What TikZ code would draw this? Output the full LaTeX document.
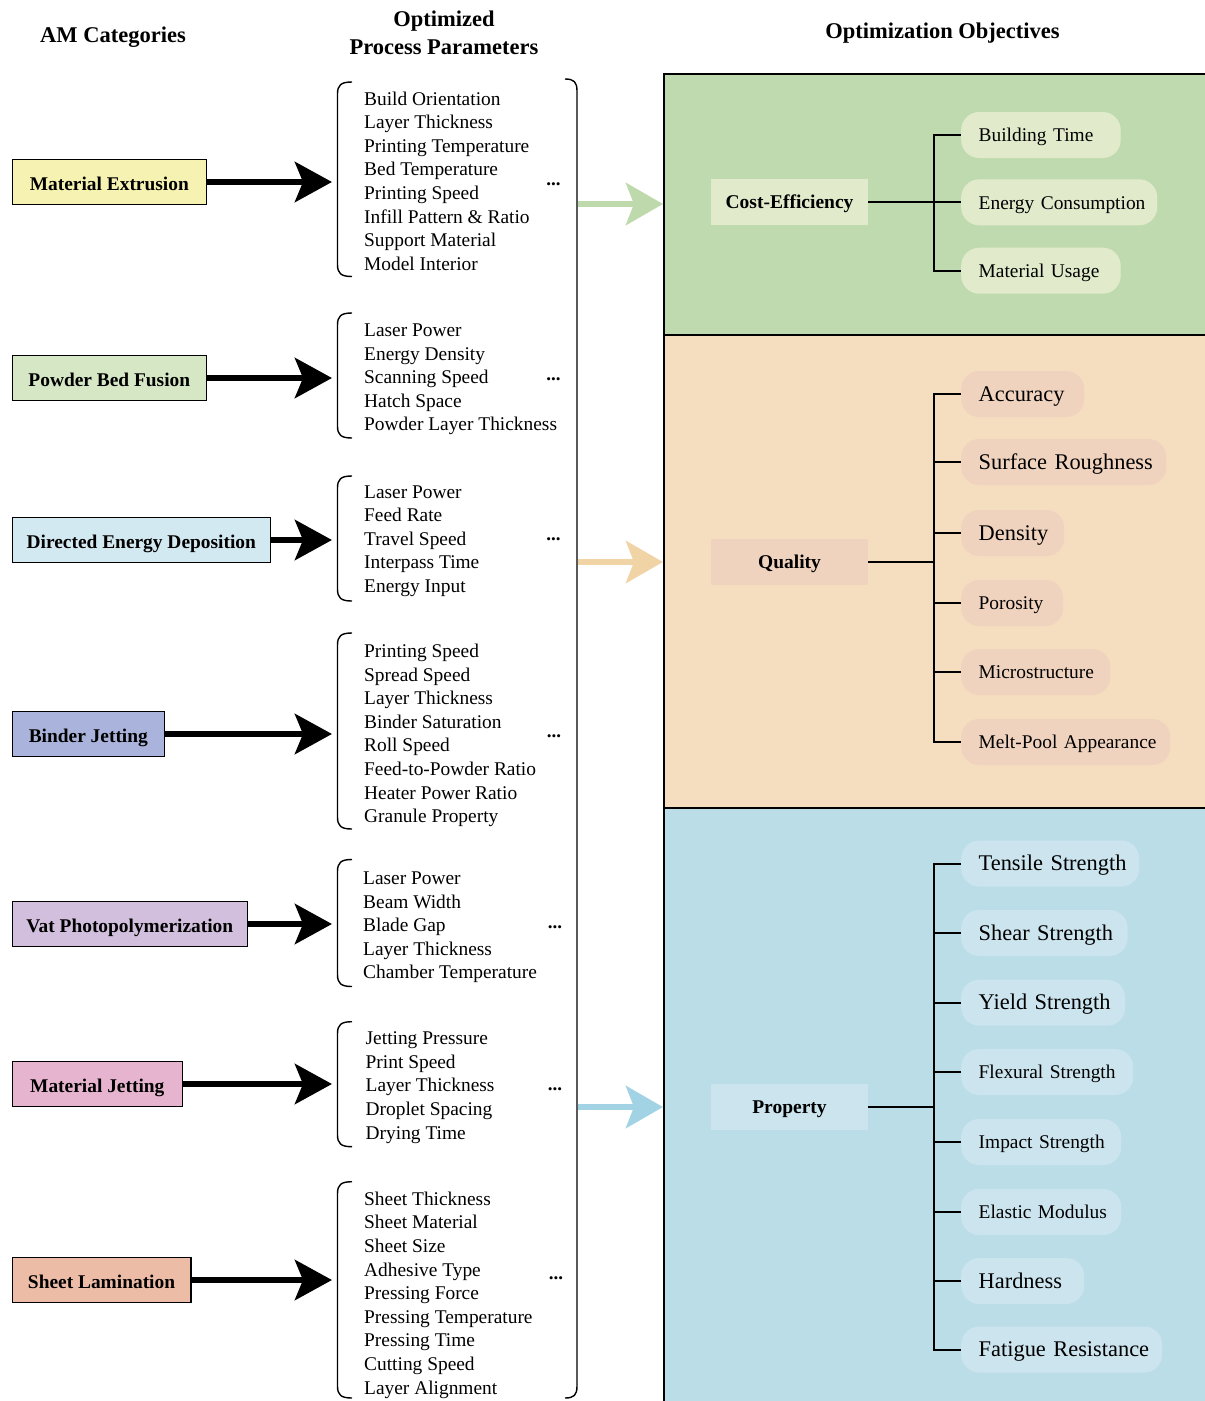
\documentclass[tikz,border=0pt]{standalone}
\usepackage{fontspec}
\setmainfont{Liberation Serif}
\usetikzlibrary{arrows.meta}
\definecolor{cME}{HTML}{F6F2B1}
\definecolor{cPBF}{HTML}{D5E7C4}
\definecolor{cDED}{HTML}{D3E9F1}
\definecolor{cBJ}{HTML}{A9B3DB}
\definecolor{cVP}{HTML}{D1BFDD}
\definecolor{cMJ}{HTML}{E6B4CE}
\definecolor{cSL}{HTML}{EDBCA7}
\definecolor{pG}{HTML}{BFDAAF}
\definecolor{kG}{HTML}{E1EBCB}
\definecolor{pO}{HTML}{F5DDC0}
\definecolor{kO}{HTML}{F0D3BF}
\definecolor{pB}{HTML}{BBDDE8}
\definecolor{kB}{HTML}{CBE4EE}
\definecolor{aG}{HTML}{BEDAAD}
\definecolor{aO}{HTML}{F0D4A5}
\definecolor{aB}{HTML}{A2D3E5}
\newcommand{\Lbrk}[2]{\draw[brak] (352,#1) .. controls (341,#1) and (337.5,#1+3) .. (337.5,#1+12) -- (337.5,#2-12) .. controls (337.5,#2-3) and (341,#2) .. (352,#2);}
\begin{document}
\begin{tikzpicture}[x=1pt,y=-1pt,
  cat/.style={draw=black, line width=1.6pt, anchor=west, minimum height=45pt, inner sep=0pt,
    font=\fontsize{19.4}{23}\selectfont\bfseries, text height=17pt, text depth=1pt},
  params/.style={anchor=west, align=left, inner sep=0pt, font=\fontsize{19.4}{23.6}\selectfont},
  dotsn/.style={font=\fontsize{19}{19}\selectfont\bfseries, inner sep=0pt},
  brak/.style={line width=1.4pt, black},
  barrow/.style={line width=6.7pt, -{Stealth[length=37pt, width=40pt, inset=8pt]}},
  carrow/.style={line width=6.7pt, -{Stealth[length=37pt, width=42pt, inset=8pt]}},
  panel/.style={draw=black, line width=1.6pt, anchor=north west, inner sep=0pt},
  objcat/.style={minimum width=157pt, minimum height=46pt, inner sep=0pt,
    font=\fontsize{19.5}{23}\selectfont\bfseries, text height=15pt, text depth=2pt},
  kid/.style={anchor=west, rounded corners=18pt, minimum height=46pt, inner xsep=17.5pt,
    inner ysep=0pt, text width=#1, align=left},
  kbig/.style={font=\fontsize{22.4}{26}\selectfont, text height=17pt, text depth=2.5pt},
  ksmall/.style={font=\fontsize{19.4}{23}\selectfont, text height=15pt, text depth=1.6pt},
  tree/.style={line width=2pt, black},
  head/.style={font=\fontsize{22.5}{27.4}\selectfont\bfseries, align=center}
]
\useasboundingbox (0,0) rectangle (1205,1401);

% headers
\node[head] (h1) at (113,37) {AM Categories};
\node[head] (h2) at (444,33) {Optimized\\Process Parameters};
\node[head] (h3) at (942.5,33) {Optimization Objectives};

% AM categories
\node[cat, fill=cME, minimum width=194pt] (me) at (11.5,182) {Material Extrusion};
\node[cat, fill=cPBF, minimum width=194pt] (pbf) at (11.5,378) {Powder Bed Fusion};
\node[cat, fill=cDED, minimum width=258pt] (ded) at (11.5,540) {Directed Energy Deposition};
\node[cat, fill=cBJ, minimum width=152pt] (bj) at (11.5,734) {Binder Jetting};
\node[cat, fill=cVP, minimum width=235pt] (vp) at (11.5,924) {Vat Photopolymerization};
\node[cat, fill=cMJ, minimum width=170pt] (mj) at (11.5,1084) {Material Jetting};
\node[cat, fill=cSL, minimum width=178.5pt] (sl) at (11.5,1280) {Sheet Lamination};

\coordinate (a1) at (332,182);
\coordinate (a2) at (332,378);
\coordinate (a3) at (332,540);
\coordinate (a4) at (332,734);
\coordinate (a5) at (332,924);
\coordinate (a6) at (332,1084);
\coordinate (a7) at (332,1280);
\draw[barrow] (me.east) -- (a1);
\draw[barrow] (pbf.east) -- (a2);
\draw[barrow] (ded.east) -- (a3);
\draw[barrow] (bj.east) -- (a4);
\draw[barrow] (vp.east) -- (a5);
\draw[barrow] (mj.east) -- (a6);
\draw[barrow] (sl.east) -- (a7);

% parameter groups
\node[params] (p1) at (364,181) {Build Orientation\\Layer Thickness\\Printing Temperature\\Bed Temperature\\Printing Speed\\Infill Pattern \& Ratio\\Support Material\\Model Interior};
\node[params] (p2) at (364,379.5) {Laser Power\\Energy Density\\Scanning Speed\\Hatch Space\\Powder Layer Thickness};
\node[params] (p3) at (364,541) {Laser Power\\Feed Rate\\Travel Speed\\Interpass Time\\Energy Input};
\node[params] (p4) at (364,735.5) {Printing Speed\\Spread Speed\\Layer Thickness\\Binder Saturation\\Roll Speed\\Feed-to-Powder Ratio\\Heater Power Ratio\\Granule Property};
\node[params] (p5) at (363,927.5) {Laser Power\\Beam Width\\Blade Gap\\Layer Thickness\\Chamber Temperature};
\node[params] (p6) at (365.5,1087.5) {Jetting Pressure\\Print Speed\\Layer Thickness\\Droplet Spacing\\Drying Time};
\node[params] (p7) at (364,1295) {Sheet Thickness\\Sheet Material\\Sheet Size\\Adhesive Type\\Pressing Force\\Pressing Temperature\\Pressing Time\\Cutting Speed\\Layer Alignment};

\node[dotsn] (d1) at (553.5,184) {...};
\node[dotsn] (d2) at (553.5,379) {...};
\node[dotsn] (d3) at (553.5,539) {...};
\node[dotsn] (d4) at (554,736) {...};
\node[dotsn] (d5) at (555,927) {...};
\node[dotsn] (d6) at (555,1089) {...};
\node[dotsn] (d7) at (556,1278) {...};

\Lbrk{82}{276.5}
\Lbrk{313}{438}
\Lbrk{476}{601}
\Lbrk{633}{829}
\Lbrk{859.5}{986.5}
\Lbrk{1021.7}{1146.7}
\Lbrk{1181.7}{1398}
% right bracket
\draw[brak] (565,79) .. controls (574,79) and (577,82) .. (577,91) -- (577,1386) .. controls (577,1395) and (574,1398) .. (565,1398);

% panels
\node[panel, fill=pG, minimum width=560pt, minimum height=261pt] (pcost) at (663,73) {};
\node[panel, fill=pO, minimum width=560pt, minimum height=473pt] (pqual) at (663,334) {};
\node[panel, fill=pB, minimum width=560pt, minimum height=610pt] (pprop) at (663,807) {};

% colored arrows
\coordinate (gs) at (578,204);
\coordinate (os) at (578,562);
\coordinate (bs) at (578,1107);
\draw[carrow, aG] (gs) -- (pcost.west |- gs);
\draw[carrow, aO] (os) -- (pqual.west |- os);
\draw[carrow, aB] (bs) -- (pprop.west |- bs);

% objective categories
\node[objcat, fill=kG] (cost) at (789.5,201.5) {Cost-Efficiency};
\node[objcat, fill=kO] (qual) at (789.5,562.3) {Quality};
\node[objcat, fill=kB] (prop) at (789.5,1107.3) {Property};

\coordinate (tc) at (933.5,0);

% cost children
\node[kid=124.5pt, ksmall, fill=kG] (c1) at (961,135) {\mbox{Building Time}};
\node[kid=161pt, ksmall, fill=kG] (c2) at (961,202.3) {\mbox{Energy Consumption}};
\node[kid=124.5pt, ksmall, fill=kG] (c3) at (961,270.7) {\mbox{Material Usage}};
\draw[tree] (c1.west) -- (c1.west -| tc) -- (c3.west -| tc) -- (c3.west);
\draw[tree] (c2.west) -- (c2.west -| tc);
\draw[tree] (cost.east) -- (cost.east -| tc);

% quality children
\node[kid=88pt, kbig, fill=kO] (q1) at (961,394) {\mbox{Accuracy}};
\node[kid=170pt, kbig, fill=kO] (q2) at (961,462) {\mbox{Surface Roughness}};
\node[kid=68pt, kbig, fill=kO] (q3) at (961,533) {\mbox{Density}};
\node[kid=67pt, ksmall, fill=kO] (q4) at (961,603) {\mbox{Porosity}};
\node[kid=114pt, ksmall, fill=kO] (q5) at (961,672) {\mbox{Microstructure}};
\node[kid=174pt, ksmall, fill=kO] (q6) at (961,742) {\mbox{Melt-Pool Appearance}};
\draw[tree] (q1.west) -- (q1.west -| tc) -- (q6.west -| tc) -- (q6.west);
\foreach \n in {q2,q3,q4,q5} \draw[tree] (\n.west) -- (\n.west -| tc);
\draw[tree] (qual.east) -- (qual.east -| tc);

% property children
\node[kid=143pt, kbig, fill=kB] (r1) at (961,863.5) {\mbox{Tensile Strength}};
\node[kid=131.5pt, kbig, fill=kB] (r2) at (961,933) {\mbox{Shear Strength}};
\node[kid=129pt, kbig, fill=kB] (r3) at (961,1002.7) {\mbox{Yield Strength}};
\node[kid=137pt, ksmall, fill=kB] (r4) at (961,1072) {\mbox{Flexural Strength}};
\node[kid=125pt, ksmall, fill=kB] (r5) at (961,1142) {\mbox{Impact Strength}};
\node[kid=125pt, ksmall, fill=kB] (r6) at (961,1212) {\mbox{Elastic Modulus}};
\node[kid=88pt, kbig, fill=kB] (r7) at (961,1281) {\mbox{Hardness}};
\node[kid=166pt, kbig, fill=kB] (r8) at (961,1349.5) {\mbox{Fatigue Resistance}};
\draw[tree] (r1.west) -- (r1.west -| tc) -- (r8.west -| tc) -- (r8.west);
\foreach \n in {r2,r3,r4,r5,r6,r7} \draw[tree] (\n.west) -- (\n.west -| tc);
\draw[tree] (prop.east) -- (prop.east -| tc);
\end{tikzpicture}
\end{document}
